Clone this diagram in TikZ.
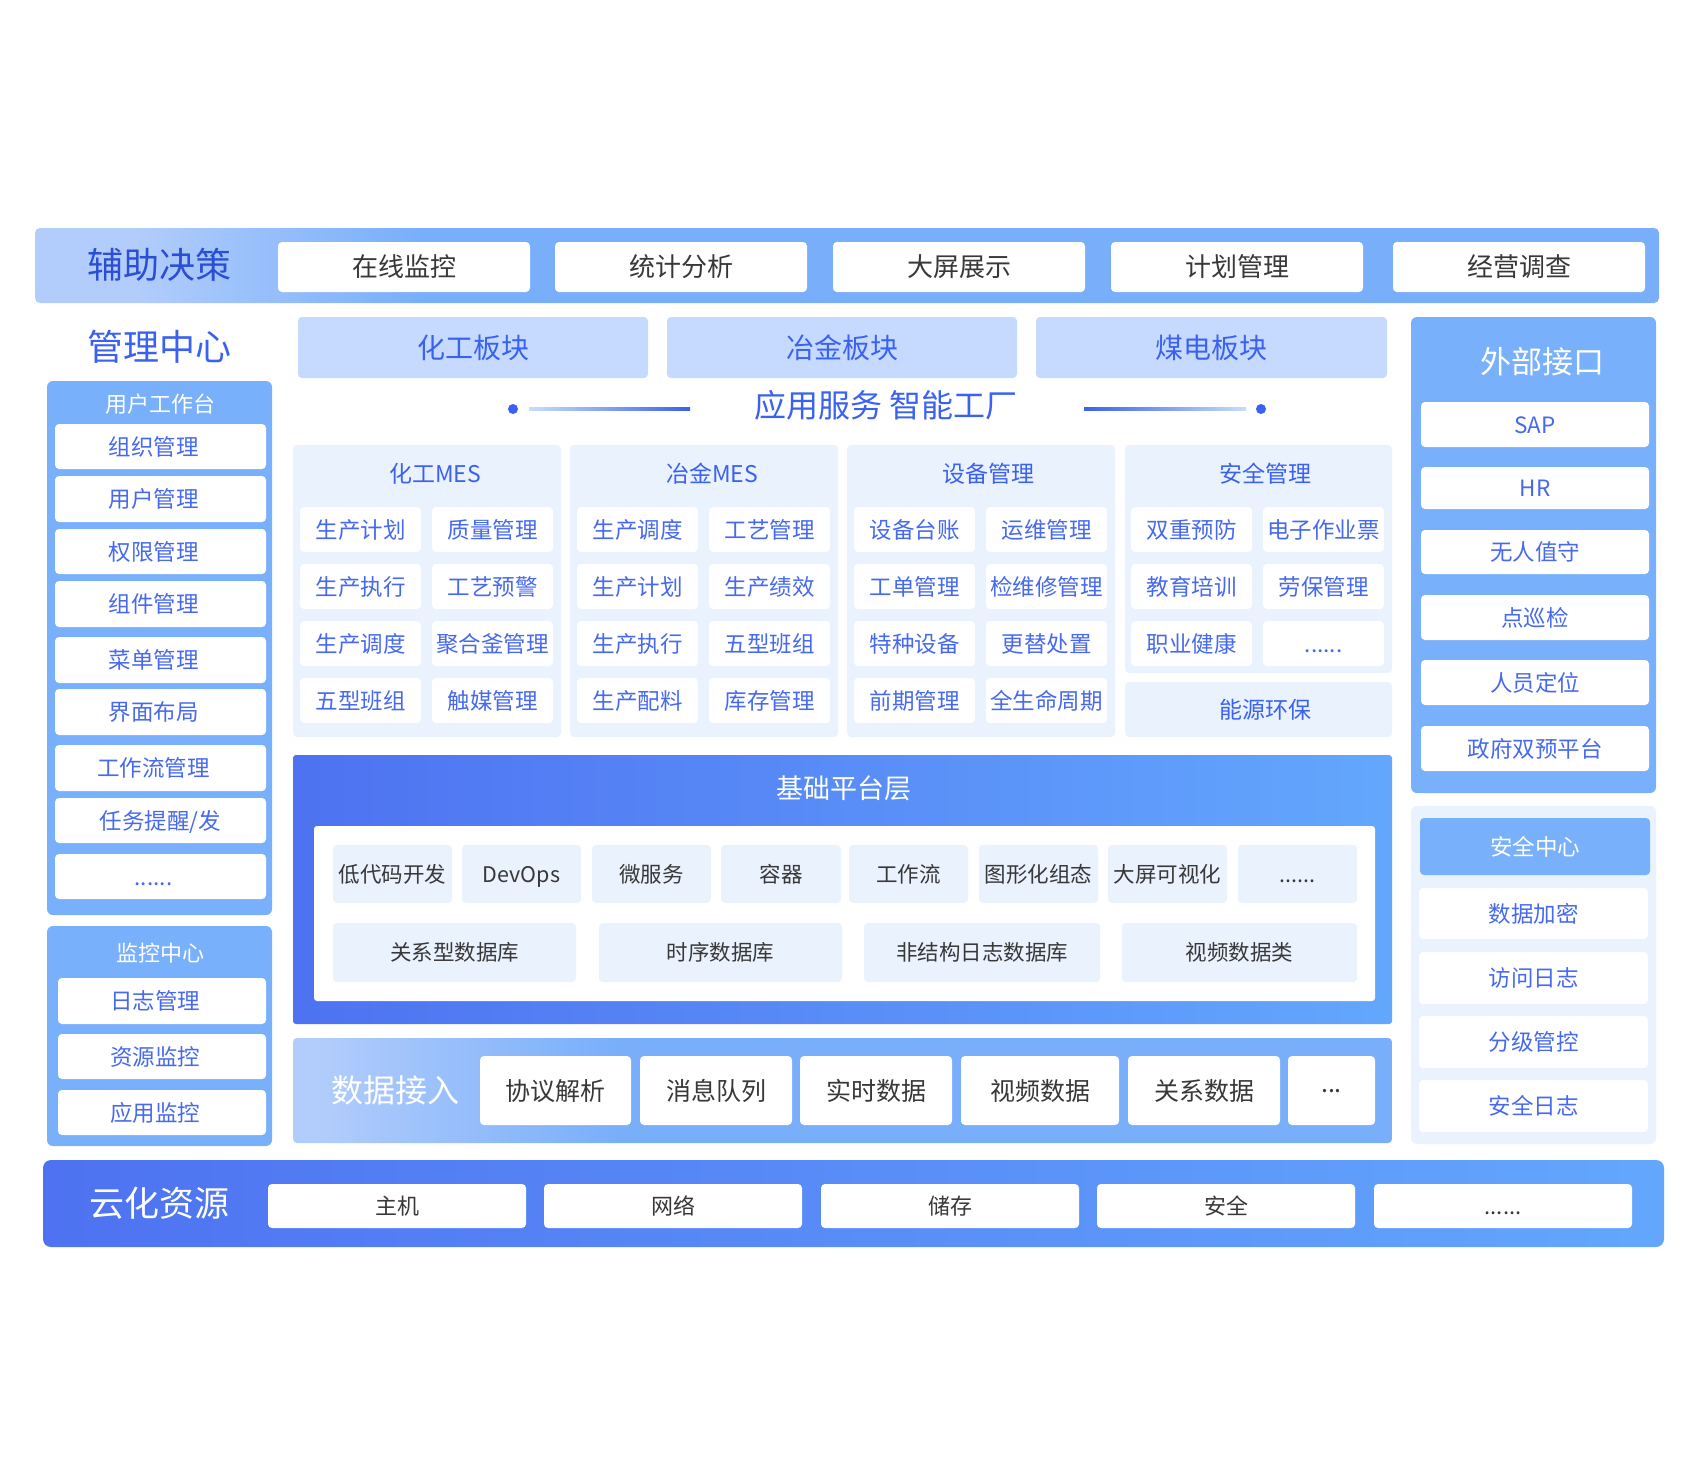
\documentclass[tikz,border=0pt]{standalone}
\usepackage{fontspec}
\setmainfont{Noto Sans CJK SC}
\definecolor{bandL}{HTML}{B2CDFB}
\definecolor{bandM}{HTML}{78AEFA}
\definecolor{blockC}{HTML}{C5DAFE}
\definecolor{paleC}{HTML}{EAF2FE}
\definecolor{panelC}{HTML}{79B0FB}
\definecolor{txtB}{HTML}{4669EF}
\definecolor{ttlB}{HTML}{3A61F0}
\definecolor{darkB}{HTML}{2B4ED6}
\definecolor{grayT}{HTML}{383838}
\definecolor{baseL}{HTML}{4E72F1}
\definecolor{baseR}{HTML}{63A7FD}
\definecolor{lineL}{HTML}{C8DDF7}
\pgfdeclarehorizontalshading{topshade}{100bp}{color(0bp)=(bandL); color(28bp)=(bandL); color(37bp)=(bandM); color(100bp)=(bandM)}
\pgfdeclarehorizontalshading{datashade}{100bp}{color(0bp)=(bandL); color(26bp)=(bandL); color(40bp)=(bandM); color(100bp)=(bandM)}
\newcommand\bx[7]{%
  \pgfmathsetmacro\bw{#5-#3}\pgfmathsetmacro\bh{#6-#4}%
  \node[base,#1,minimum width=\bw pt,minimum height=\bh pt,anchor=north west] (#2) at (#3,#4) {#7};}
\newcommand\lsh[1]{#1\hspace*{14pt}}
\tikzset{
  base/.style={inner sep=0pt,outer sep=0pt},
  fs/.code={\pgfmathsetmacro\fsh{0.88*#1}\pgfmathsetmacro\fsd{0.12*#1}%
    \edef\fstmp{\noexpand\tikzset{font=\noexpand\fontsize{#1}{#1}\noexpand\selectfont,text height=\fsh pt,text depth=\fsd pt}}\fstmp},
  wbox/.style={fill=white,rounded corners=4pt},
  pale/.style={fill=paleC,rounded corners=4pt},
  panel/.style={fill=panelC,rounded corners=6pt},
  block/.style={fill=blockC,rounded corners=4pt},
  topitem/.style={wbox,fs=26,text=grayT},
  mitem/.style={wbox,fs=22.5,text=txtB},
  cell/.style={wbox,fs=22.5,text=txtB},
  pcell/.style={pale,fs=21.5,text=grayT},
  ditem/.style={wbox,fs=25,text=grayT},
  citem/.style={wbox,fs=22,text=grayT},
  ptitle/.style={base,fs=22,text=white},
  mtitle/.style={base,fs=23,text=ttlB},
}
\begin{document}
\begin{tikzpicture}[x=1pt,y=-1pt]
\useasboundingbox (0,0) rectangle (1700,1480);
\fill[white] (0,0) rectangle (1700,1480);

% ---------- top band
\bx{shade,shading=topshade,rounded corners=5pt}{topband}{35}{228}{1659}{303}{}
\node[base,fs=36,text=darkB] (tdec) at (159,265) {辅助决策};
\bx{topitem}{t1}{278}{242}{530}{292}{在线监控}
\bx{topitem}{t2}{555}{242}{807}{292}{统计分析}
\bx{topitem}{t3}{833}{242}{1085}{292}{大屏展示}
\bx{topitem}{t4}{1111}{242}{1363}{292}{计划管理}
\bx{topitem}{t5}{1393}{242}{1645}{292}{经营调查}

% ---------- management centre
\node[base,fs=36,text=ttlB] (mgmt) at (159,347) {管理中心};
\bx{panel}{upanel}{47}{381}{272}{915}{}
\node[ptitle] (utitle) at (160,404) {用户工作台};
\bx{mitem}{u1}{55}{424}{266}{469}{\lsh{组织管理}}
\bx{mitem}{u2}{55}{476}{266}{522}{\lsh{用户管理}}
\bx{mitem}{u3}{55}{529}{266}{574}{\lsh{权限管理}}
\bx{mitem}{u4}{55}{581}{266}{627}{\lsh{组件管理}}
\bx{mitem}{u5}{55}{637}{266}{683}{\lsh{菜单管理}}
\bx{mitem}{u6}{55}{689}{266}{735}{\lsh{界面布局}}
\bx{mitem}{u7}{55}{745}{266}{791}{\lsh{工作流管理}}
\bx{mitem}{u8}{55}{798}{266}{843}{任务提醒/发}
\bx{mitem}{u9}{55}{854}{266}{899}{\lsh{......}}

\bx{panel}{jpanel}{47}{926}{272}{1146}{}
\node[ptitle] (jtitle) at (160,953) {监控中心};
\bx{mitem}{j1}{58}{978}{266}{1024}{\lsh{日志管理}}
\bx{mitem}{j2}{58}{1034}{266}{1079}{\lsh{资源监控}}
\bx{mitem}{j3}{58}{1090}{266}{1135}{\lsh{应用监控}}

% ---------- sector blocks
\bx{block,fs=28,text=ttlB}{b1}{298}{317}{648}{378}{化工板块}
\bx{block,fs=28,text=ttlB}{b2}{667}{317}{1017}{378}{冶金板块}
\bx{block,fs=28,text=ttlB}{b3}{1036}{317}{1387}{378}{煤电板块}

% ---------- application service line
\node[base,fs=32,text=ttlB] (app) at (886,405) {应用服务 智能工厂};
\node[circle,fill=ttlB,minimum size=10pt,inner sep=0pt] (dotl) at (513,409) {};
\node[circle,fill=ttlB,minimum size=10pt,inner sep=0pt] (dotr) at (1261,409) {};
\shade[left color=lineL,right color=ttlB] (529,407.5) rectangle (690,410.5);
\shade[left color=ttlB,right color=lineL] (1084,407.5) rectangle (1246,410.5);

% ---------- MES panels
\bx{pale}{p1}{293}{445}{561}{737}{}
\bx{pale}{p2}{570}{445}{838}{737}{}
\bx{pale}{p3}{847}{445}{1115}{737}{}
\bx{pale}{p4}{1125}{445}{1392}{673}{}
\bx{pale}{p5}{1125}{682}{1392}{737}{}
\node[mtitle] (p5t) at (1265,709.5) {能源环保};
\node[mtitle] (p1t) at (435,474) {化工MES};
\node[mtitle] (p2t) at (712,474) {冶金MES};
\node[mtitle] (p3t) at (988,474) {设备管理};
\node[mtitle] (p4t) at (1265,474) {安全管理};

\bx{cell}{a11}{300}{507}{421}{552}{生产计划}
\bx{cell}{a12}{432}{507}{553}{552}{质量管理}
\bx{cell}{a21}{300}{564}{421}{609}{生产执行}
\bx{cell}{a22}{432}{564}{553}{609}{工艺预警}
\bx{cell}{a31}{300}{621}{421}{666}{生产调度}
\bx{cell}{a32}{432}{621}{553}{666}{聚合釜管理}
\bx{cell}{a41}{300}{678}{421}{723}{五型班组}
\bx{cell}{a42}{432}{678}{553}{723}{触媒管理}

\bx{cell}{b11}{577}{507}{698}{552}{生产调度}
\bx{cell}{b12}{709}{507}{830}{552}{工艺管理}
\bx{cell}{b21}{577}{564}{698}{609}{生产计划}
\bx{cell}{b22}{709}{564}{830}{609}{生产绩效}
\bx{cell}{b31}{577}{621}{698}{666}{生产执行}
\bx{cell}{b32}{709}{621}{830}{666}{五型班组}
\bx{cell}{b41}{577}{678}{698}{723}{生产配料}
\bx{cell}{b42}{709}{678}{830}{723}{库存管理}

\bx{cell}{c11}{854}{507}{975}{552}{设备台账}
\bx{cell}{c12}{986}{507}{1107}{552}{运维管理}
\bx{cell}{c21}{854}{564}{975}{609}{工单管理}
\bx{cell}{c22}{986}{564}{1107}{609}{检维修管理}
\bx{cell}{c31}{854}{621}{975}{666}{特种设备}
\bx{cell}{c32}{986}{621}{1107}{666}{更替处置}
\bx{cell}{c41}{854}{678}{975}{723}{前期管理}
\bx{cell}{c42}{986}{678}{1107}{723}{全生命周期}

\bx{cell}{d11}{1131}{507}{1252}{552}{双重预防}
\bx{cell}{d12}{1263}{507}{1384}{552}{电子作业票}
\bx{cell}{d21}{1131}{564}{1252}{609}{教育培训}
\bx{cell}{d22}{1263}{564}{1384}{609}{劳保管理}
\bx{cell}{d31}{1131}{621}{1252}{666}{职业健康}
\bx{cell}{d32}{1263}{621}{1384}{666}{......}

% ---------- base platform layer
\bx{left color=baseL,right color=baseR,rounded corners=3pt}{plat}{293}{755}{1392}{1024}{}
\node[base,fs=27,text=white] (platt) at (844,788) {基础平台层};
\bx{fill=white,rounded corners=3pt}{platin}{314}{826}{1375}{1001}{}
\bx{pcell}{e1}{333}{845}{452}{903}{低代码开发}
\bx{pcell}{e2}{462}{845}{581}{903}{DevOps}
\bx{pcell}{e3}{592}{845}{711}{903}{微服务}
\bx{pcell}{e4}{721}{845}{841}{903}{容器}
\bx{pcell}{e5}{849}{845}{968}{903}{工作流}
\bx{pcell}{e6}{979}{845}{1098}{903}{图形化组态}
\bx{pcell}{e7}{1108}{845}{1227}{903}{大屏可视化}
\bx{pcell}{e8}{1238}{845}{1357}{903}{......}
\bx{pcell}{f1}{333}{923}{576}{982}{关系型数据库}
\bx{pcell}{f2}{599}{923}{842}{982}{时序数据库}
\bx{pcell}{f3}{864}{923}{1100}{982}{非结构日志数据库}
\bx{pcell}{f4}{1122}{923}{1357}{982}{视频数据类}

% ---------- data access
\bx{shade,shading=datashade,rounded corners=4pt}{data}{293}{1038}{1392}{1143}{}
\node[base,fs=32,text=white] (datat) at (395,1090) {数据接入};
\bx{ditem}{g1}{480}{1056}{631}{1125}{协议解析}
\bx{ditem}{g2}{640}{1056}{792}{1125}{消息队列}
\bx{ditem}{g3}{800}{1056}{952}{1125}{实时数据}
\bx{ditem}{g4}{961}{1056}{1119}{1125}{视频数据}
\bx{ditem}{g5}{1128}{1056}{1280}{1125}{关系数据}
\bx{ditem}{g6}{1288}{1056}{1375}{1125}{\raisebox{0.3em}{...}}

% ---------- external interfaces
\bx{panel}{xpanel}{1411}{317}{1656}{793}{}
\node[base,fs=31,text=white] (xtitle) at (1542,362) {外部接口};
\bx{mitem}{x1}{1421}{402}{1649}{447}{SAP}
\bx{mitem}{x2}{1421}{467}{1649}{509}{HR}
\bx{mitem}{x3}{1421}{530}{1649}{574}{无人值守}
\bx{mitem}{x4}{1421}{595}{1649}{640}{点巡检}
\bx{mitem}{x5}{1421}{660}{1649}{705}{人员定位}
\bx{mitem}{x6}{1421}{726}{1649}{771}{政府双预平台}

% ---------- security centre
\bx{pale,rounded corners=6pt}{spanel}{1411}{806}{1656}{1144}{}
\bx{fill=panelC,rounded corners=4pt,fs=22.5,text=white}{s0}{1420}{818}{1650}{875}{安全中心}
\bx{mitem}{s1}{1419}{888}{1648}{939}{数据加密}
\bx{mitem}{s2}{1419}{952}{1648}{1004}{访问日志}
\bx{mitem}{s3}{1419}{1016}{1648}{1068}{分级管控}
\bx{mitem}{s4}{1419}{1080}{1648}{1132}{安全日志}

% ---------- cloud resources
\bx{left color=baseL,right color=baseR,rounded corners=8pt}{cloud}{43}{1160}{1664}{1247}{}
\node[base,fs=35,text=white] (cloudt) at (159,1203) {云化资源};
\bx{citem}{h1}{268}{1184}{526}{1228}{主机}
\bx{citem}{h2}{544}{1184}{802}{1228}{网络}
\bx{citem}{h3}{821}{1184}{1079}{1228}{储存}
\bx{citem}{h4}{1097}{1184}{1355}{1228}{安全}
\bx{citem}{h5}{1374}{1184}{1632}{1228}{......}
\end{tikzpicture}
\end{document}
